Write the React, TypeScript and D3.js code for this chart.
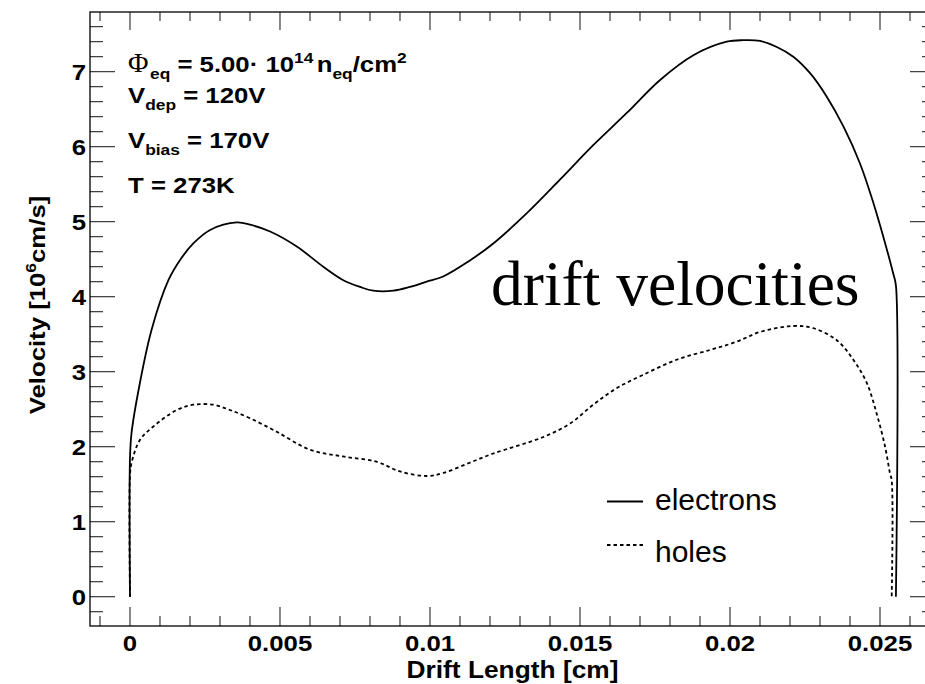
import React from "react";
import * as d3 from "d3";

// ---- data ----
const electronsX = [0, 0, 0.00005, 0.00033, 0.00072, 0.00128, 0.00167, 0.00211, 0.00267, 0.00356, 0.004, 0.00467, 0.00556, 0.00644, 0.00711, 0.00767, 0.00811, 0.00878, 0.00933, 0.00989, 0.01044, 0.01128, 0.01211, 0.01322, 0.01433, 0.01544, 0.01656, 0.01767, 0.01878, 0.01989, 0.02044, 0.021, 0.02156, 0.02211, 0.02267, 0.02322, 0.02378, 0.02433, 0.02478, 0.02511, 0.02544, 0.02553, 0.02553];
const electronsY = [0, 1.85, 2.18, 2.85, 3.56, 4.22, 4.49, 4.71, 4.89, 4.99, 4.96, 4.87, 4.67, 4.40, 4.22, 4.13, 4.08, 4.08, 4.13, 4.20, 4.27, 4.47, 4.71, 5.11, 5.56, 6.02, 6.45, 6.89, 7.22, 7.40, 7.42, 7.41, 7.33, 7.20, 6.98, 6.67, 6.27, 5.78, 5.25, 4.80, 4.31, 4.15, 0];

const holesX = [0, 0, 0.00005, 0.00033, 0.00078, 0.00156, 0.00211, 0.00278, 0.00333, 0.004, 0.00489, 0.006, 0.00711, 0.00822, 0.009, 0.00989, 0.01044, 0.01128, 0.01211, 0.01378, 0.01467, 0.01544, 0.01622, 0.01711, 0.01822, 0.01933, 0.02022, 0.021, 0.02211, 0.02278, 0.02356, 0.02411, 0.02456, 0.02489, 0.02517, 0.02533, 0.02539, 0.02539];
const holesY = [0, 1.62, 1.78, 2.09, 2.27, 2.49, 2.56, 2.56, 2.49, 2.38, 2.20, 1.96, 1.87, 1.80, 1.67, 1.61, 1.65, 1.78, 1.91, 2.13, 2.31, 2.56, 2.78, 2.96, 3.16, 3.29, 3.40, 3.53, 3.61, 3.58, 3.42, 3.16, 2.85, 2.44, 2.0, 1.65, 1.55, 0];

const xMajorTicks = [0, 0.005, 0.01, 0.015, 0.02, 0.025];
const xTickLabels = ["0", "0.005", "0.01", "0.015", "0.02", "0.025"];
const yMajorTicks = [0, 1, 2, 3, 4, 5, 6, 7];
const yTickLabels = ["0", "1", "2", "3", "4", "5", "6", "7"];
const legendLabels = ["electrons", "holes"];

const W = 925;
const H = 684;
const FL = 90, FR = 935, FT = 12, FB = 626;
const SANS = "'Liberation Sans', Arial, Helvetica, sans-serif";
const SERIF = "'Liberation Serif', 'Times New Roman', Times, serif";
const SX = 1.12;
const FS = 23;
const SUB = 15.5;

export default function App() {
  const x = d3.scaleLinear().domain([-0.0013333, 0.0268333]).range([FL, FR]);
  const y = d3.scaleLinear().domain([-0.39, 7.796]).range([FB, FT]);

  const line = d3
    .line<[number, number]>()
    .x((d) => x(d[0]))
    .y((d) => y(d[1]))
    .curve(d3.curveCatmullRom.alpha(0.5));

  const ePts = electronsX.map((v, i) => [v, electronsY[i]] as [number, number]);
  const hPts = holesX.map((v, i) => [v, holesY[i]] as [number, number]);

  const xMinor = d3.range(-1, 27).map((k) => k * 0.001).filter((v) => Math.abs(v / 0.005 - Math.round(v / 0.005)) > 1e-6);
  const yMinor = d3.range(-1, 39).map((k) => k * 0.2).filter((v) => Math.abs(v - Math.round(v)) > 1e-6 && v < 7.79);

  const tick = "#111";

  return (
    <svg width={W} height={H} style={{ position: "absolute", left: 0, top: 0, background: "#fff" }}>
      <rect x={0} y={0} width={W} height={H} fill="#fff" />
      <defs>
        <clipPath id="plot">
          <rect x={FL} y={FT} width={FR - FL} height={FB - FT} />
        </clipPath>
      </defs>

      {/* ticks */}
      <g stroke={tick} strokeWidth={1}>
        {xMajorTicks.map((v) => (
          <g key={"xM" + v}>
            <line x1={x(v)} x2={x(v)} y1={FB} y2={FB - 19} />
            <line x1={x(v)} x2={x(v)} y1={FT} y2={FT + 18} />
          </g>
        ))}
        {xMinor.map((v) => (
          <g key={"xm" + v}>
            <line x1={x(v)} x2={x(v)} y1={FB} y2={FB - 10} />
            <line x1={x(v)} x2={x(v)} y1={FT} y2={FT + 9} />
          </g>
        ))}
        {yMajorTicks.map((v) => (
          <g key={"yM" + v}>
            <line x1={FL} x2={FL + 25} y1={y(v)} y2={y(v)} />
            <line x1={FR} x2={FR - 25} y1={y(v)} y2={y(v)} />
          </g>
        ))}
        {yMinor.map((v) => (
          <g key={"ym" + v}>
            <line x1={FL} x2={FL + 13} y1={y(v)} y2={y(v)} />
            <line x1={FR} x2={FR - 13} y1={y(v)} y2={y(v)} />
          </g>
        ))}
      </g>

      {/* frame */}
      <rect x={FL} y={FT} width={FR - FL} height={FB - FT} fill="none" stroke="#000" strokeWidth={1.3} />

      {/* curves */}
      <g clipPath="url(#plot)" fill="none" stroke="#000">
        <path d={line(ePts) || ""} strokeWidth={1.8} />
        <path d={line(hPts) || ""} strokeWidth={1.8} strokeDasharray="3.5,3" />
      </g>

      {/* x tick labels */}
      {xMajorTicks.map((v, i) => (
        <text key={"xl" + v} transform={`translate(${x(v)},651) scale(${SX},1)`} textAnchor="middle" fontFamily={SANS} fontWeight="bold" fontSize={FS} fill="#000">
          {xTickLabels[i]}
        </text>
      ))}
      {/* y tick labels */}
      {yMajorTicks.map((v, i) => (
        <text key={"yl" + v} transform={`translate(86,${y(v) + 8.2}) scale(${SX},1)`} textAnchor="end" fontFamily={SANS} fontWeight="bold" fontSize={FS} fill="#000">
          {yTickLabels[i]}
        </text>
      ))}

      {/* axis titles */}
      <text transform={`translate(${(FL + FR) / 2},678) scale(${SX},1)`} textAnchor="middle" fontFamily={SANS} fontWeight="bold" fontSize={FS + 0.5} fill="#000">
        Drift Length [cm]
      </text>
      <text transform={`translate(45,305) rotate(-90) scale(${SX},1)`} textAnchor="middle" fontFamily={SANS} fontWeight="bold" fontSize={FS} fill="#000">
        Velocity [10<tspan fontSize={SUB} dy={-9}>6</tspan><tspan dy={9}>cm/s]</tspan>
      </text>

      {/* annotation */}
      <text x={128} y={72} fontFamily={SERIF} fontSize={28} fill="#000">Φ</text>
      <text transform={`translate(150,72) scale(${SX},1)`} fontFamily={SANS} fontWeight="bold" fontSize={FS} fill="#000">
        <tspan fontSize={SUB} dy={7}>eq</tspan>
        <tspan dy={-7}> = 5.00· 10</tspan>
        <tspan fontSize={SUB} dy={-9}>14</tspan>
        <tspan dy={9} dx={3}>n</tspan>
        <tspan fontSize={SUB} dy={7}>eq</tspan>
        <tspan dy={-7}>/cm</tspan>
        <tspan fontSize={SUB} dy={-9}>2</tspan>
      </text>
      <text transform={`translate(128,103) scale(${SX},1)`} fontFamily={SANS} fontWeight="bold" fontSize={FS} fill="#000">
        V<tspan fontSize={SUB} dy={7}>dep</tspan>
        <tspan dy={-7}> = 120V</tspan>
      </text>
      <text transform={`translate(128,148) scale(${SX},1)`} fontFamily={SANS} fontWeight="bold" fontSize={FS} fill="#000">
        V<tspan fontSize={SUB} dy={7}>bias</tspan>
        <tspan dy={-7}> = 170V</tspan>
      </text>
      <text transform={`translate(128,193) scale(${SX},1)`} fontFamily={SANS} fontWeight="bold" fontSize={FS} fill="#000">
        T = 273K
      </text>

      {/* big label */}
      <text x={491} y={305} fontFamily={SERIF} fontSize={63.5} fill="#000">drift velocities</text>

      {/* legend */}
      <line x1={607} x2={643} y1={501.5} y2={501.5} stroke="#000" strokeWidth={1.8} />
      <text x={655} y={510} fontFamily={SANS} fontSize={30} fill="#000">{legendLabels[0]}</text>
      <line x1={607} x2={645} y1={545} y2={545} stroke="#000" strokeWidth={1.8} strokeDasharray="3.5,3" />
      <text x={655} y={561.5} fontFamily={SANS} fontSize={30} fill="#000">{legendLabels[1]}</text>
    </svg>
  );
}
